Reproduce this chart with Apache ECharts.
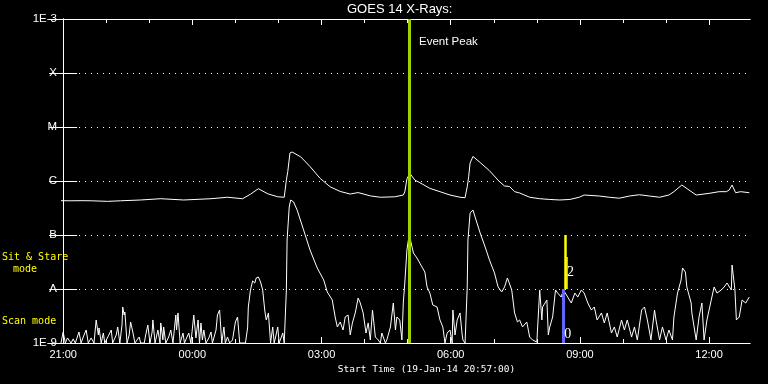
<!DOCTYPE html>
<html>
<head>
<meta charset="utf-8">
<style>html,body{margin:0;padding:0;background:#000;}#c{width:768px;height:384px;}</style>
<script src="https://cdn.jsdelivr.net/npm/echarts@6/dist/echarts.min.js"></script>
</head>
<body>
<div id="c"></div>
<script>
// Time in minutes since 21:00 (19-Jan-14), flux in W/m^2
var longChannel = [[-3,4.32e-7],[11,4.3e-7],[25,4.32e-7],[39,4.3e-7],[62,4.2e-7],[80,4.3e-7],[108,4.45e-7],[136,4.7e-7],[168,4.45e-7],[206,4.7e-7],[229,5.0e-7],[250,4.7e-7],[261,5.7e-7],[272,7.2e-7],[285,5.8e-7],[299,5.1e-7],[308,5.0e-7],[311,1.04e-6],[313,1.5e-6],[316,3.3e-6],[319,3.44e-6],[331,2.8e-6],[344,1.85e-6],[358,1.12e-6],[372,7.8e-7],[386,6.4e-7],[400,5.74e-7],[411,6.1e-7],[428,5.3e-7],[442,5.0e-7],[462,5.1e-7],[474,5.5e-7],[476,6.3e-7],[479,1.09e-6],[483,1.39e-6],[490,1.04e-6],[497,9.3e-7],[511,7.3e-7],[525,6.34e-7],[539,5.5e-7],[553,5.0e-7],[560,4.9e-7],[563,7.8e-7],[565,1.2e-6],[567,2.15e-6],[571,2.85e-6],[581,2.2e-6],[594,1.55e-6],[608,9.7e-7],[615,8.1e-7],[622,7.9e-7],[629,6.34e-7],[636,6.0e-7],[650,5.0e-7],[664,4.7e-7],[678,4.55e-7],[692,4.45e-7],[706,4.55e-7],[719,5.0e-7],[726,5.5e-7],[747,5.27e-7],[761,5.0e-7],[775,4.8e-7],[789,5.27e-7],[803,5.57e-7],[817,5.27e-7],[831,5.0e-7],[844,5.5e-7],[851,6.34e-7],[862,8.43e-7],[872,6.8e-7],[882,5.5e-7],[900,5.9e-7],[914,6.34e-7],[924,6.34e-7],[928,6.8e-7],[932,8.43e-7],[937,6.07e-7],[944,6.34e-7],[956,6.07e-7]];

var shortChannel = [[-3,1e-9],[0,1.6e-9],[3,1e-9],[6,1.24e-9],[8,1.35e-9],[11,1e-9],[14,1.19e-9],[17,1e-9],[22,1.6e-9],[25,1e-9],[28,1.29e-9],[32,1.74e-9],[35,1e-9],[39,1.24e-9],[43,1e-9],[46,2.67e-9],[49,1.41e-9],[50,1.9e-9],[53,1e-9],[56,1.53e-9],[58,1e-9],[63,1.35e-9],[67,1.74e-9],[69,1e-9],[74,1.41e-9],[76,1.98e-9],[79,1e-9],[82,2.15e-9],[83,4.64e-9],[85,3.3e-9],[86,3.75e-9],[89,1e-9],[92,1.41e-9],[94,2.45e-9],[97,1.6e-9],[100,1e-9],[103,1.14e-9],[106,1.29e-9],[108,1e-9],[113,1e-9],[115,1.41e-9],[118,2.15e-9],[121,1e-9],[124,1.6e-9],[125,2.67e-9],[128,1e-9],[132,1.74e-9],[135,1e-9],[136,2.35e-9],[139,1.14e-9],[140,1.98e-9],[143,1e-9],[147,1.29e-9],[150,1.74e-9],[153,1e-9],[157,3.3e-9],[158,1.74e-9],[160,3.6e-9],[163,1e-9],[167,1.53e-9],[169,1e-9],[172,1.24e-9],[175,1.53e-9],[178,1e-9],[182,3.3e-9],[185,1.24e-9],[188,2.67e-9],[190,1e-9],[192,2.35e-9],[194,1.14e-9],[196,1.74e-9],[199,1e-9],[203,1.24e-9],[206,1.6e-9],[208,1e-9],[213,1.74e-9],[215,3.3e-9],[218,4.08e-9],[221,1e-9],[224,1.98e-9],[226,1e-9],[229,1.29e-9],[232,1e-9],[236,1.14e-9],[240,2.45e-9],[243,3.03e-9],[246,1e-9],[254,1e-9],[257,1.9e-9],[258,4.64e-9],[261,9.6e-9],[264,1.41e-8],[267,1.29e-8],[269,1.6e-8],[272,1.67e-8],[275,1.35e-8],[278,9.6e-9],[281,3.91e-9],[283,2.67e-9],[286,3.6e-9],[289,1e-9],[292,1.98e-9],[294,1e-9],[296,1.29e-9],[299,1.98e-9],[301,1e-9],[306,1.53e-9],[308,1e-9],[311,9.6e-9],[312,8.07e-8],[315,3.3e-7],[317,4.45e-7],[321,4.1e-7],[326,2.9e-7],[335,1.24e-7],[344,5.27e-8],[354,2.45e-8],[363,1.47e-8],[368,8.8e-9],[375,6.25e-9],[379,3.03e-9],[382,1.98e-9],[386,2.45e-9],[390,1.74e-9],[393,3.03e-9],[397,3.3e-9],[400,1.41e-9],[403,2.35e-9],[407,3.6e-9],[411,6.81e-9],[414,5.5e-9],[418,3.6e-9],[422,1.53e-9],[425,2.35e-9],[428,1.14e-9],[431,4.08e-9],[435,1.29e-9],[439,1.14e-9],[442,1e-9],[444,1.53e-9],[449,1e-9],[451,1.14e-9],[456,1.98e-9],[460,5.5e-9],[463,1.74e-9],[465,3.03e-9],[469,2.67e-9],[472,1.14e-9],[474,5.74e-9],[476,1.29e-8],[479,5.27e-8],[481,8.07e-8],[483,9.2e-8],[488,4.64e-8],[493,3.75e-8],[500,2.55e-8],[504,2.06e-8],[507,1.09e-8],[511,8.4e-9],[515,5.05e-9],[521,4.64e-9],[525,2.67e-9],[529,1.98e-9],[532,1e-9],[535,1.53e-9],[539,1.74e-9],[542,1e-9],[543,4.08e-9],[546,1.41e-9],[549,2.67e-9],[553,3.6e-9],[556,1.41e-9],[557,1.14e-9],[560,1e-9],[563,1.09e-8],[564,8.07e-8],[567,2.55e-7],[571,2.9e-7],[574,2.15e-7],[581,1.09e-7],[588,5.98e-8],[594,3.44e-8],[601,1.98e-8],[606,1.09e-8],[611,8.8e-9],[615,1.09e-8],[619,1.6e-8],[625,9.6e-9],[629,3.6e-9],[633,2.45e-9],[636,2.67e-9],[640,1.98e-9],[646,2.45e-9],[650,1.29e-9],[654,1.14e-9],[660,1.04e-9],[664,9.6e-9],[667,2.67e-9],[668,4.64e-9],[674,6.25e-9],[676,1.41e-9],[678,1.98e-9],[682,3.03e-9],[686,9.6e-9],[689,8.4e-9],[694,7.1e-9],[697,9.6e-9],[703,7.1e-9],[708,5.5e-9],[713,8.4e-9],[717,7.1e-9],[722,9.6e-9],[726,8.4e-9],[731,5.5e-9],[736,4.08e-9],[740,4.64e-9],[744,2.67e-9],[750,3.6e-9],[754,2.35e-9],[758,3.6e-9],[764,1.53e-9],[768,1.98e-9],[772,1.29e-9],[778,2.67e-9],[782,1.74e-9],[786,2.67e-9],[792,1.29e-9],[796,1.98e-9],[800,1.14e-9],[806,4.08e-9],[810,4.64e-9],[814,2.67e-9],[819,1.14e-9],[824,4.08e-9],[826,2.67e-9],[831,1.14e-9],[835,1.98e-9],[840,1.14e-9],[844,1.74e-9],[849,1.14e-9],[851,3.03e-9],[856,8.4e-9],[861,1.47e-8],[863,2.45e-8],[867,2.06e-8],[869,1.09e-8],[875,5.5e-9],[876,3.6e-9],[882,1.14e-9],[886,3.03e-9],[890,5.5e-9],[893,1.14e-9],[897,2.67e-9],[903,6.25e-9],[907,1.09e-8],[911,8.4e-9],[917,9.6e-9],[921,1.09e-8],[925,1.29e-8],[931,9.6e-9],[932,2.78e-8],[936,9.6e-9],[938,2.67e-9],[942,3.03e-9],[946,6.25e-9],[951,5.5e-9],[956,7.1e-9]];

var xMinMinutes = -3;    // 20:57
var xMaxMinutes = 957;
var xMajorTicks = [0, 180, 360, 540, 720, 900];
var xMinorTicks = [0, 60, 120, 180, 240, 300, 360, 420, 480, 540, 600, 660, 720, 780, 840, 900];
var xTickLabels = ['21:00', '00:00', '03:00', '06:00', '09:00', '12:00'];
var yTickValues = [1e-9, 1e-8, 1e-7, 1e-6, 1e-5, 1e-4, 1e-3];
var yTickLabels = ['1E-9', 'A', 'B', 'C', 'M', 'X', '1E-3'];
var eventPeakTime = 482;
var sitStareMarker = { time: 699, from: 1e-7, to: 1e-8 };
var sitStareMarker2 = { time: 701.5, from: 3.9e-8, to: 1e-8 };
var scanMarker = { time: 697, from: 1e-8, to: 1e-9 };
var markerLabels = [{ text: '2', time: 707, flux: 2.07e-8 }, { text: '0', time: 703, flux: 1.47e-9 }];

var SANS = '"Liberation Sans", Arial, sans-serif';
var MONO = '"DejaVu Sans Mono", monospace';
var chart = echarts.init(document.getElementById('c'), null, { renderer: 'canvas' });

function xLabel(v) {
  var i = xMajorTicks.indexOf(Math.round(v));
  return i >= 0 ? xTickLabels[i] : '';
}
function yLabel(v) {
  for (var i = 0; i < yTickValues.length; i++) {
    if (Math.abs(Math.log10(v) - Math.log10(yTickValues[i])) < 0.01) return yTickLabels[i];
  }
  return '';
}

var gridRect = { left: 61, right: 18, top: 19, bottom: 41 };
var white = '#ffffff';

function xAxisDef(grid, pos, ticks, len, withLabel) {
  return {
    type: 'value', gridIndex: grid, position: pos, min: xMinMinutes, max: xMaxMinutes,
    axisLine: { show: true, lineStyle: { color: white, width: 1 } },
    axisTick: { show: true, inside: true, length: len, customValues: ticks, lineStyle: { color: white, width: 1 } },
    axisLabel: withLabel ? { show: true, customValues: xMajorTicks, formatter: xLabel, color: white, fontFamily: SANS, fontSize: 11, margin: 6 } : { show: false },
    splitLine: { show: false },
    name: withLabel ? 'Start Time (19-Jan-14 20:57:00)' : '',
    nameLocation: 'middle', nameGap: 20,
    nameTextStyle: { color: white, fontFamily: MONO, fontSize: 9.5, padding: [0, 0, 0, 42] }
  };
}

var option = {
  backgroundColor: '#000000',
  animation: false,
  grid: [Object.assign({}, gridRect), Object.assign({}, gridRect)],
  xAxis: [
    xAxisDef(0, 'bottom', xMajorTicks, 6, true),
    xAxisDef(0, 'top', xMajorTicks, 6, false),
    xAxisDef(1, 'bottom', xMinorTicks, 4, false),
    xAxisDef(1, 'top', xMinorTicks, 4, false)
  ],
  yAxis: [
    {
      type: 'log', logBase: 10, gridIndex: 0, position: 'left', min: 1e-9, max: 1e-3, splitNumber: 6,
      axisLine: { show: true, lineStyle: { color: white, width: 1 } },
      axisTick: { show: true, inside: true, length: 14, lineStyle: { color: white, width: 1 } },
      axisLabel: { show: true, formatter: yLabel, color: white, fontFamily: SANS, fontSize: 11.5, margin: 4 },
      splitLine: { show: true, lineStyle: { color: white, width: 1, type: [1, 5] } }
    },
    {
      type: 'log', logBase: 10, gridIndex: 0, position: 'right', min: 1e-9, max: 1e-3, splitNumber: 6,
      axisLine: { show: true, lineStyle: { color: white, width: 1 } },
      axisTick: { show: true, inside: true, length: 14, lineStyle: { color: white, width: 1 } },
      axisLabel: { show: false },
      splitLine: { show: false }
    },
    { type: 'value', gridIndex: 1, show: false, min: 0, max: 1 }
  ],
  graphic: [
    { type: 'text', left: 347, top: 3, style: { text: 'GOES 14 X-Rays:', fill: white, font: '13px ' + SANS } },
    { type: 'text', left: 419, top: 36, style: { text: 'Event Peak', fill: white, font: '11.5px ' + SANS } },
    { type: 'text', left: 2, top: 252, style: { text: 'Sit & Stare', fill: '#ffff00', font: '10px ' + MONO } },
    { type: 'text', left: 13, top: 264, style: { text: 'mode', fill: '#ffff00', font: '10px ' + MONO } },
    { type: 'text', left: 2, top: 316, style: { text: 'Scan mode', fill: '#ffff00', font: '10px ' + MONO } }
  ],
  series: [
    {
      type: 'line', name: 'long', xAxisIndex: 0, yAxisIndex: 0, data: longChannel,
      showSymbol: false, symbol: 'none', lineStyle: { color: white, width: 1 }, clip: true
    },
    {
      type: 'line', name: 'short', xAxisIndex: 0, yAxisIndex: 0, data: shortChannel,
      showSymbol: false, symbol: 'none', lineStyle: { color: white, width: 1 }, clip: true,
      markLine: {
        silent: true, symbol: 'none', label: { show: false },
        data: [
          { xAxis: eventPeakTime, lineStyle: { color: '#a0d000', width: 3, type: 'solid' } },
          [{ coord: [sitStareMarker.time, sitStareMarker.from], lineStyle: { color: '#ffff00', width: 2.5, type: 'solid' } },
           { coord: [sitStareMarker.time, sitStareMarker.to] }],
          [{ coord: [sitStareMarker2.time, sitStareMarker2.from], lineStyle: { color: '#ffff00', width: 1.5, type: 'solid' } },
           { coord: [sitStareMarker2.time, sitStareMarker2.to] }],
          [{ coord: [scanMarker.time, scanMarker.from], lineStyle: { color: '#6464ff', width: 3, type: 'solid' } },
           { coord: [scanMarker.time, scanMarker.to] }]
        ]
      },
      markPoint: {
        silent: true, symbol: 'circle', symbolSize: 0,
        label: { show: true, position: 'inside', color: white, fontFamily: 'Liberation Serif, serif', fontSize: 14, formatter: function (p) { return p.name; } },
        data: markerLabels.map(function (m) { return { name: m.text, coord: [m.time, m.flux] }; })
      }
    }
  ]
};
chart.setOption(option);
</script>
</body>
</html>
